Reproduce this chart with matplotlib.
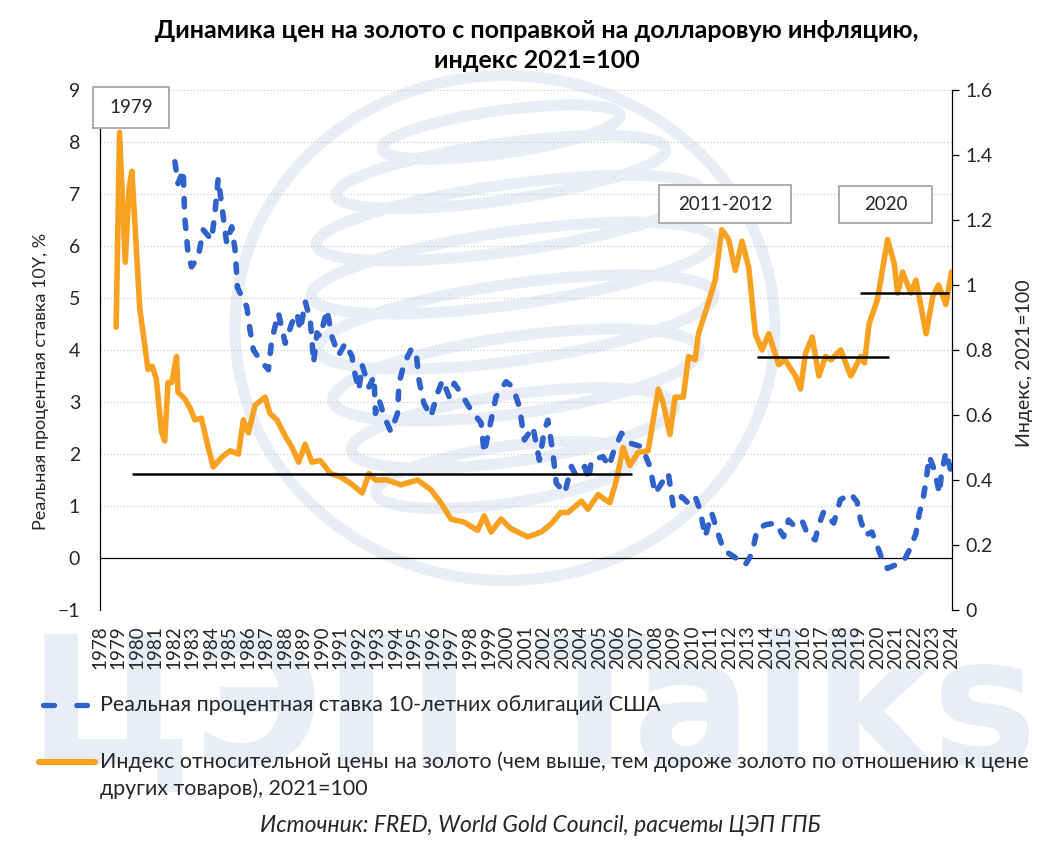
import matplotlib
matplotlib.use('Agg')
import matplotlib.pyplot as plt
from matplotlib.patches import Rectangle, Ellipse
from matplotlib.lines import Line2D
from matplotlib.transforms import IdentityTransform

plt.rcParams['font.family'] = ['Lato', 'DejaVu Sans']

W, H = 1038, 850
BLUE = '#3062CC'
ORANGE = '#F8A01F'
WM = '#E9EDF6'

# gold relative price index, 2021=100 (right axis)
gold_years = [1978.9, 1979.08, 1979.39, 1979.6, 1979.75, 1980.17, 1980.62, 1980.85, 1981.07, 1981.34,
              1981.52, 1981.7, 1981.9, 1982.16, 1982.24, 1982.6, 1982.9, 1983.15, 1983.5, 1983.87,
              1984.14, 1984.6, 1985.05, 1985.5, 1985.77, 1986.04, 1986.4, 1986.94, 1987.2, 1987.58,
              1988.03, 1988.4, 1988.75, 1989.1, 1989.47, 1989.92, 1990.2, 1990.47, 1991.0, 1991.55,
              1992.18, 1992.55, 1992.9, 1993.54, 1994.26, 1995.17, 1995.89, 1996.43, 1996.97, 1997.7,
              1998.41, 1998.77, 1999.14, 1999.68, 2000.22, 2001.12, 2001.85, 2002.39, 2002.9, 2003.29,
              2004.02, 2004.37, 2004.92, 2005.55, 2005.91, 2006.27, 2006.63, 2007.08, 2007.62, 2008.17,
              2008.44, 2008.8, 2009.07, 2009.52, 2009.8, 2010.16, 2010.34, 2010.79, 2011.24, 2011.6,
              2011.97, 2012.33, 2012.69, 2013.05, 2013.41, 2013.77, 2014.13, 2014.67, 2015.0, 2015.58,
              2015.85, 2016.12, 2016.48, 2016.84, 2017.2, 2017.5, 2018.02, 2018.56, 2019.1, 2019.3,
              2019.55, 2020.0, 2020.55, 2020.91, 2021.09, 2021.36, 2021.81, 2022.08, 2022.63, 2022.99,
              2023.3, 2023.7, 2024.0]
gold_index = [0.87, 1.47, 1.07, 1.30, 1.35, 0.93, 0.74, 0.75, 0.71, 0.55,
              0.52, 0.70, 0.70, 0.78, 0.67, 0.65, 0.62, 0.585, 0.59, 0.50,
              0.44, 0.47, 0.49, 0.48, 0.585, 0.545, 0.63, 0.655, 0.605, 0.585,
              0.535, 0.50, 0.455, 0.51, 0.455, 0.46, 0.44, 0.42, 0.41, 0.39,
              0.36, 0.42, 0.40, 0.40, 0.385, 0.40, 0.37, 0.33, 0.28, 0.27,
              0.245, 0.29, 0.24, 0.28, 0.25, 0.225, 0.24, 0.265, 0.30, 0.30,
              0.335, 0.31, 0.355, 0.33, 0.40, 0.50, 0.445, 0.485, 0.49, 0.68,
              0.635, 0.54, 0.655, 0.655, 0.78, 0.77, 0.85, 0.93, 1.015, 1.17,
              1.14, 1.045, 1.135, 1.055, 0.85, 0.80, 0.85, 0.755, 0.77, 0.72,
              0.68, 0.79, 0.84, 0.72, 0.78, 0.77, 0.80, 0.72, 0.78, 0.76,
              0.88, 0.955, 1.14, 1.065, 0.975, 1.04, 0.975, 1.015, 0.85, 0.965,
              1.0, 0.94, 1.04]

# real 10Y US treasury rate, % (left axis)
rate_years = [1982.07, 1982.24, 1982.52, 1982.6, 1982.78, 1982.97, 1983.33, 1983.6, 1984.05, 1984.23,
              1984.41, 1984.68, 1984.87, 1985.14, 1985.32, 1985.45, 1985.95, 1986.13, 1986.31, 1986.67,
              1987.12, 1987.3, 1987.66, 1988.03, 1988.39, 1988.66, 1988.84, 1989.11, 1989.38, 1989.56,
              1989.74, 1989.92, 1990.28, 1990.55, 1990.91, 1991.27, 1991.64, 1991.72, 1992.0, 1992.18,
              1992.55, 1992.82, 1992.9, 1993.1, 1993.37, 1993.73, 1994.09, 1994.17, 1994.45, 1994.81,
              1995.08, 1995.25, 1995.52, 1995.89, 1996.25, 1996.52, 1996.88, 1997.15, 1997.51, 1998.05,
              1998.6, 1998.77, 1999.14, 1999.41, 1999.95, 2000.31, 2000.67, 2000.94, 2001.4, 2001.75,
              2002.02, 2002.21, 2002.48, 2002.66, 2003.12, 2003.48, 2003.7, 2004.2, 2004.4, 2004.56,
              2005.19, 2005.5, 2005.73, 2006.18, 2006.72, 2007.27, 2007.72, 2007.99, 2008.35, 2008.71,
              2008.98, 2009.43, 2009.8, 2010.16, 2010.43, 2010.7, 2011.06, 2011.33, 2011.7, 2012.24,
              2012.5, 2012.87, 2013.23, 2013.5, 2013.95, 2014.5, 2014.94, 2015.2, 2015.47, 2015.92,
              2016.28, 2016.64, 2016.8, 2017.1, 2017.64, 2018.0, 2018.55, 2018.9, 2019.09, 2019.36,
              2019.7, 2020.0, 2020.27, 2020.54, 2021.0, 2021.45, 2021.72, 2022.08, 2022.26, 2022.44,
              2022.63, 2022.8, 2023.08, 2023.35, 2023.45, 2023.7, 2024.0]
rate_values = [7.62, 7.2, 7.46, 6.56, 5.86, 5.6, 5.79, 6.31, 6.12, 6.63,
               7.3, 6.56, 6.05, 6.37, 5.92, 5.2, 4.83, 4.38, 4.0, 3.81,
               3.62, 4.19, 4.71, 4.13, 4.52, 4.71, 4.38, 4.93, 4.58, 3.75,
               4.33, 4.26, 4.77, 4.26, 3.9, 4.13, 3.87, 3.65, 3.23, 3.71,
               3.29, 3.49, 2.78, 3.04, 2.72, 2.43, 2.78, 3.36, 3.74, 4.0,
               4.0, 3.42, 2.97, 2.72, 3.17, 3.42, 3.1, 3.36, 3.17, 2.85,
               2.6, 2.02, 2.65, 3.1, 3.39, 3.29, 2.91, 2.27, 2.52, 1.88,
               2.46, 2.65, 2.02, 1.44, 1.25, 1.76, 1.6, 1.76, 1.5, 1.88,
               1.95, 1.76, 2.02, 2.4, 2.2, 2.14, 1.76, 1.24, 1.44, 1.63,
               0.99, 1.18, 1.05, 1.18, 0.92, 0.41, 0.86, 0.54, 0.15, 0.03,
               -0.04, -0.13, 0.09, 0.54, 0.64, 0.67, 0.41, 0.73, 0.63, 0.73,
               0.41, 0.35, 0.6, 0.89, 0.67, 1.12, 1.24, 1.08, 0.73, 0.44,
               0.5, 0.22, -0.04, -0.2, -0.13, -0.04, 0.15, 0.47, 0.86, 1.08,
               1.5, 1.95, 1.69, 1.24, 1.6, 2.04, 1.63]

# average levels of the index (right axis)
level_start = [1979.75, 2013.5, 2019.06]
level_end = [2006.75, 2020.6, 2023.85]
level_value = [0.42, 0.777, 0.976]

years = list(range(1978, 2025))
left_ticks = list(range(-1, 10))
right_ticks = [0, 0.2, 0.4, 0.6, 0.8, 1.0, 1.2, 1.4, 1.6]
right_labels = ['0', '0.2', '0.4', '0.6', '0.8', '1', '1.2', '1.4', '1.6']
period_labels = ['1979', '2011-2012', '2020']


def fx(x):
    return x / W


def fy(y):
    return 1 - y / H


fig = plt.figure(figsize=(W / 100, H / 100), dpi=100)

# background watermark: globe logo and "ЦЭП Talks"
ident = IdentityTransform()
fig.add_artist(Ellipse((505, H - 328), 540, 505, fill=False, edgecolor=WM, lw=8, transform=ident, zorder=-2))
loops = [(501, 132, 240, 43), (501, 172, 333, 57), (509, 218, 389, 67), (513, 268, 407, 73),
         (516, 322, 400, 77), (516, 375, 370, 77), (513, 428, 326, 67), (505, 475, 260, 57)]
for cx, cy, w, h in loops:
    fig.add_artist(Ellipse((cx, H - cy), w, h, angle=8, fill=False, edgecolor=WM, lw=8,
                           transform=ident, zorder=-2))
fig.text(fx(28), fy(628), 'ЦЭП Talks', fontsize=128, fontweight='bold', color=WM, va='top',
         ha='left', zorder=-2, family=['Liberation Sans Narrow', 'DejaVu Sans'])

ax = fig.add_axes([99.5 / W, fy(610), 852 / W, 520 / H])
ax.patch.set_visible(False)
ax2 = ax.twinx()
ax2.patch.set_visible(False)

ax.yaxis.grid(True, linestyle=(0, (1, 2)), color='#C4C4C4', lw=0.8)
ax.set_axisbelow(True)
ax.axhline(0, color='black', lw=0.9, zorder=1)
ax.plot(rate_years, rate_values, color=BLUE, lw=4.0, linestyle=(0, (1.5, 2.4)),
        dash_capstyle='round', zorder=3)
ax2.plot(gold_years, gold_index, color=ORANGE, lw=4.0, solid_joinstyle='round',
         solid_capstyle='round', zorder=3)
ax2.hlines(level_value, level_start, level_end, color='black', lw=1.8, zorder=4)

ax.set_xlim(1978, 2024)
ax.set_ylim(-1, 9)
ax2.set_ylim(0, 1.6)

ax.set_xticks(years)
ax.set_xticklabels([str(y) for y in years], rotation=90, fontsize=13.5, color='#262626')
ax.tick_params(axis='x', length=0, pad=11)
ax.set_yticks(left_ticks)
ax.tick_params(axis='y', length=0, pad=14, labelsize=14, labelcolor='#262626')
ax2.set_yticks(right_ticks)
ax2.set_yticklabels(right_labels)
ax2.tick_params(axis='y', length=5, width=0.9, direction='out', pad=5, labelsize=14, labelcolor='#262626')

for s in ['top', 'bottom', 'right']:
    ax.spines[s].set_visible(False)
for s in ['top', 'bottom', 'left']:
    ax2.spines[s].set_visible(False)
ax.spines['left'].set_linewidth(0.9)
ax2.spines['right'].set_linewidth(0.9)

ax.set_ylabel('Реальная процентная ставка 10Y, %', fontsize=13, color='#262626')
ax.yaxis.set_label_coords(-0.059, 0.44)
ax2.set_ylabel('Индекс, 2021=100', fontsize=14, color='#262626')
ax2.yaxis.set_label_coords(1.076, 0.475)

# title
fig.text(fx(537), fy(30), 'Динамика цен на золото с поправкой на долларовую инфляцию,',
         ha='center', va='center', fontsize=18, fontweight='bold')
fig.text(fx(537), fy(60), 'индекс 2021=100', ha='center', va='center', fontsize=18, fontweight='bold')

# period boxes
boxes = [(93, 87, 169, 128), (659, 185, 791, 223), (839, 186, 932, 223)]
for (x0, y0, x1, y1), lab in zip(boxes, period_labels):
    fig.add_artist(Rectangle((fx(x0), fy(y1)), (x1 - x0) / W, (y1 - y0) / H, transform=fig.transFigure,
                             facecolor='white', edgecolor='#A6A6A6', lw=1.3, zorder=5))
    fig.text(fx((x0 + x1) / 2), fy((y0 + y1) / 2), lab, ha='center', va='center', fontsize=13.5,
             color='#262626', zorder=6)

# legend
fig.add_artist(Line2D([fx(42.5), fx(87)], [fy(705), fy(705)], color=BLUE, lw=3.8,
                      linestyle=(0, (2.1, 4.2)), dash_capstyle='round'))
fig.add_artist(Line2D([fx(39), fx(95)], [fy(762), fy(762)], color=ORANGE, lw=4.4, solid_capstyle='round'))
fig.text(fx(100), fy(705), 'Реальная процентная ставка 10-летних облигаций США', va='center',
         fontsize=15.4, color='#262626')
fig.text(fx(100), fy(762), 'Индекс относительной цены на золото (чем выше, тем дороже золото по отношению к цене',
         va='center', fontsize=15.4, color='#262626')
fig.text(fx(100), fy(789), 'других товаров), 2021=100', va='center', fontsize=15.4, color='#262626')

fig.text(fx(540), fy(826), 'Источник: FRED, World Gold Council, расчеты ЦЭП ГПБ', ha='center', va='center',
         fontsize=16.5, style='italic', color='#262626')

fig.savefig('out.png', dpi=100)
